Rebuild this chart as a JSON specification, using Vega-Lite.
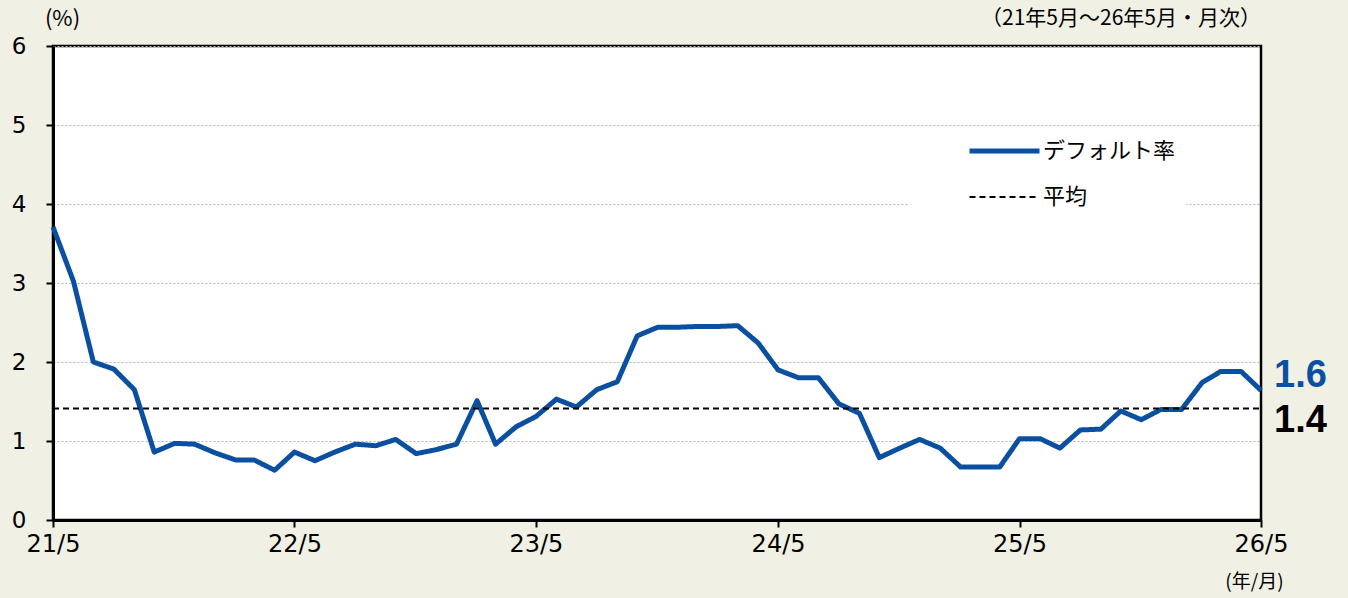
{
  "$schema": "https://vega.github.io/schema/vega-lite/v6.json",
  "width": 1208,
  "height": 474,
  "autosize": {"type": "none"},
  "padding": {"left": 53, "top": 46, "right": 87, "bottom": 78},
  "background": "#f1f0e5",
  "config": {
    "font": "Noto Sans CJK JP",
    "view": {"fill": "white", "stroke": "black", "strokeWidth": 2.5}
  },
  "title": {
    "text": "（21年5月～26年5月・月次）",
    "anchor": "end",
    "frame": "group",
    "fontSize": 21,
    "fontWeight": "normal",
    "color": "black",
    "font": "Noto Sans CJK JP",
    "offset": 0,
    "dy": 22
  },
  "layer": [
    {
      "data": {
        "values": [
          {"d": "2021-05-01", "v": 3.71, "s": "デフォルト率"},
          {"d": "2021-06-01", "v": 3.02, "s": "デフォルト率"},
          {"d": "2021-07-01", "v": 2.00, "s": "デフォルト率"},
          {"d": "2021-08-01", "v": 1.91, "s": "デフォルト率"},
          {"d": "2021-09-01", "v": 1.65, "s": "デフォルト率"},
          {"d": "2021-10-01", "v": 0.86, "s": "デフォルト率"},
          {"d": "2021-11-01", "v": 0.97, "s": "デフォルト率"},
          {"d": "2021-12-01", "v": 0.96, "s": "デフォルト率"},
          {"d": "2022-01-01", "v": 0.85, "s": "デフォルト率"},
          {"d": "2022-02-01", "v": 0.76, "s": "デフォルト率"},
          {"d": "2022-03-01", "v": 0.76, "s": "デフォルト率"},
          {"d": "2022-04-01", "v": 0.63, "s": "デフォルト率"},
          {"d": "2022-05-01", "v": 0.86, "s": "デフォルト率"},
          {"d": "2022-06-01", "v": 0.75, "s": "デフォルト率"},
          {"d": "2022-07-01", "v": 0.86, "s": "デフォルト率"},
          {"d": "2022-08-01", "v": 0.96, "s": "デフォルト率"},
          {"d": "2022-09-01", "v": 0.94, "s": "デフォルト率"},
          {"d": "2022-10-01", "v": 1.02, "s": "デフォルト率"},
          {"d": "2022-11-01", "v": 0.84, "s": "デフォルト率"},
          {"d": "2022-12-01", "v": 0.89, "s": "デフォルト率"},
          {"d": "2023-01-01", "v": 0.96, "s": "デフォルト率"},
          {"d": "2023-02-01", "v": 1.51, "s": "デフォルト率"},
          {"d": "2023-03-01", "v": 0.96, "s": "デフォルト率"},
          {"d": "2023-04-01", "v": 1.18, "s": "デフォルト率"},
          {"d": "2023-05-01", "v": 1.31, "s": "デフォルト率"},
          {"d": "2023-06-01", "v": 1.53, "s": "デフォルト率"},
          {"d": "2023-07-01", "v": 1.43, "s": "デフォルト率"},
          {"d": "2023-08-01", "v": 1.65, "s": "デフォルト率"},
          {"d": "2023-09-01", "v": 1.75, "s": "デフォルト率"},
          {"d": "2023-10-01", "v": 2.33, "s": "デフォルト率"},
          {"d": "2023-11-01", "v": 2.44, "s": "デフォルト率"},
          {"d": "2023-12-01", "v": 2.44, "s": "デフォルト率"},
          {"d": "2024-01-01", "v": 2.45, "s": "デフォルト率"},
          {"d": "2024-02-01", "v": 2.45, "s": "デフォルト率"},
          {"d": "2024-03-01", "v": 2.46, "s": "デフォルト率"},
          {"d": "2024-04-01", "v": 2.24, "s": "デフォルト率"},
          {"d": "2024-05-01", "v": 1.90, "s": "デフォルト率"},
          {"d": "2024-06-01", "v": 1.80, "s": "デフォルト率"},
          {"d": "2024-07-01", "v": 1.80, "s": "デフォルト率"},
          {"d": "2024-08-01", "v": 1.47, "s": "デフォルト率"},
          {"d": "2024-09-01", "v": 1.35, "s": "デフォルト率"},
          {"d": "2024-10-01", "v": 0.79, "s": "デフォルト率"},
          {"d": "2024-11-01", "v": 0.91, "s": "デフォルト率"},
          {"d": "2024-12-01", "v": 1.02, "s": "デフォルト率"},
          {"d": "2025-01-01", "v": 0.91, "s": "デフォルト率"},
          {"d": "2025-02-01", "v": 0.67, "s": "デフォルト率"},
          {"d": "2025-03-01", "v": 0.67, "s": "デフォルト率"},
          {"d": "2025-04-01", "v": 0.67, "s": "デフォルト率"},
          {"d": "2025-05-01", "v": 1.03, "s": "デフォルト率"},
          {"d": "2025-06-01", "v": 1.03, "s": "デフォルト率"},
          {"d": "2025-07-01", "v": 0.91, "s": "デフォルト率"},
          {"d": "2025-08-01", "v": 1.14, "s": "デフォルト率"},
          {"d": "2025-09-01", "v": 1.15, "s": "デフォルト率"},
          {"d": "2025-10-01", "v": 1.38, "s": "デフォルト率"},
          {"d": "2025-11-01", "v": 1.27, "s": "デフォルト率"},
          {"d": "2025-12-01", "v": 1.40, "s": "デフォルト率"},
          {"d": "2026-01-01", "v": 1.40, "s": "デフォルト率"},
          {"d": "2026-02-01", "v": 1.74, "s": "デフォルト率"},
          {"d": "2026-03-01", "v": 1.88, "s": "デフォルト率"},
          {"d": "2026-04-01", "v": 1.88, "s": "デフォルト率"},
          {"d": "2026-05-01", "v": 1.64, "s": "デフォルト率"},
          {"d": "2021-05-01", "v": 1.41, "s": "平均"},
          {"d": "2026-05-01", "v": 1.41, "s": "平均"}
        ]
      },
      "mark": {"type": "line", "strokeJoin": "round", "strokeCap": "butt"},
      "encoding": {
        "x": {
          "field": "d",
          "type": "temporal",
          "scale": {
            "type": "utc",
            "domain": [
              {"year": 2021, "month": 5, "date": 1, "utc": true},
              {"year": 2026, "month": 5, "date": 1, "utc": true}
            ]
          },
          "axis": {
            "values": [
              {"year": 2021, "month": 5, "date": 1, "utc": true},
              {"year": 2022, "month": 5, "date": 1, "utc": true},
              {"year": 2023, "month": 5, "date": 1, "utc": true},
              {"year": 2024, "month": 5, "date": 1, "utc": true},
              {"year": 2025, "month": 5, "date": 1, "utc": true},
              {"year": 2026, "month": 5, "date": 1, "utc": true}
            ],
            "labelExpr": "utcFormat(datum.value, '%y/%-m')",
            "grid": false,
            "domainColor": "black",
            "domainWidth": 3,
            "tickColor": "black",
            "tickWidth": 2,
            "tickSize": 7,
            "labelFontSize": 24,
            "labelColor": "black",
            "labelPadding": 5,
            "labelFlush": false,
            "labelOverlap": false,
            "labelFont": "DejaVu Sans",
            "title": "(年/月)",
            "titleFont": "Noto Sans CJK JP",
            "titleFontSize": 19,
            "titleFontWeight": "normal",
            "titleColor": "black",
            "titleX": 1201,
            "titleY": 61,
            "titleAlign": "center",
            "titleBaseline": "middle"
          }
        },
        "y": {
          "field": "v",
          "type": "quantitative",
          "scale": {"domain": [0, 6], "nice": false},
          "axis": {
            "values": [0, 1, 2, 3, 4, 5, 6],
            "format": "d",
            "grid": true,
            "gridColor": "#b5b5b5",
            "gridDash": [2, 2],
            "gridWidth": 1,
            "domainColor": "black",
            "domainWidth": 3,
            "tickColor": "black",
            "tickWidth": 2,
            "tickSize": 7,
            "labelFontSize": 23,
            "labelColor": "black",
            "labelPadding": 20,
            "labelFont": "DejaVu Sans",
            "title": "(%)",
            "titleFont": "Noto Sans CJK JP",
            "titleFontSize": 22,
            "titleFontWeight": "normal",
            "titleColor": "black",
            "titleAngle": 0,
            "titleX": 9,
            "titleY": -28,
            "titleAlign": "center",
            "titleBaseline": "middle"
          }
        },
        "color": {
          "field": "s",
          "type": "nominal",
          "scale": {"domain": ["デフォルト率", "平均"], "range": ["#0b50a0", "#000000"]},
          "legend": {
            "title": null,
            "orient": "none",
            "legendX": 855,
            "legendY": 82,
            "fillColor": "white",
            "padding": 10,
            "symbolType": "stroke",
            "symbolSize": 4900,
            "symbolOffset": 49,
            "labelFontSize": 22,
            "labelColor": "black",
            "labelOffset": 1,
            "labelFont": "Noto Sans CJK JP",
            "rowPadding": 20,
            "clipHeight": 26
          }
        },
        "strokeDash": {
          "field": "s",
          "type": "nominal",
          "scale": {"domain": ["デフォルト率", "平均"], "range": [[1, 0], [6, 4]]}
        },
        "strokeWidth": {
          "field": "s",
          "type": "nominal",
          "scale": {"type": "ordinal", "domain": ["デフォルト率", "平均"], "range": [5, 2]}
        }
      }
    },
    {
      "data": {"values": [{"d": "2026-05-01", "v": 1.64, "t": "1.6"}]},
      "mark": {"type": "text", "align": "left", "baseline": "alphabetic", "dx": 13, "dy": -3, "fontSize": 38, "fontWeight": "bold", "font": "Liberation Sans", "color": "#0b50a0"},
      "encoding": {
        "x": {"field": "d", "type": "temporal"},
        "y": {"field": "v", "type": "quantitative"},
        "text": {"field": "t"}
      }
    },
    {
      "data": {"values": [{"d": "2026-05-01", "v": 1.41, "t": "1.4"}]},
      "mark": {"type": "text", "align": "left", "baseline": "alphabetic", "dx": 13, "dy": 23, "fontSize": 38, "fontWeight": "bold", "font": "Liberation Sans", "color": "black"},
      "encoding": {
        "x": {"field": "d", "type": "temporal"},
        "y": {"field": "v", "type": "quantitative"},
        "text": {"field": "t"}
      }
    }
  ]
}
